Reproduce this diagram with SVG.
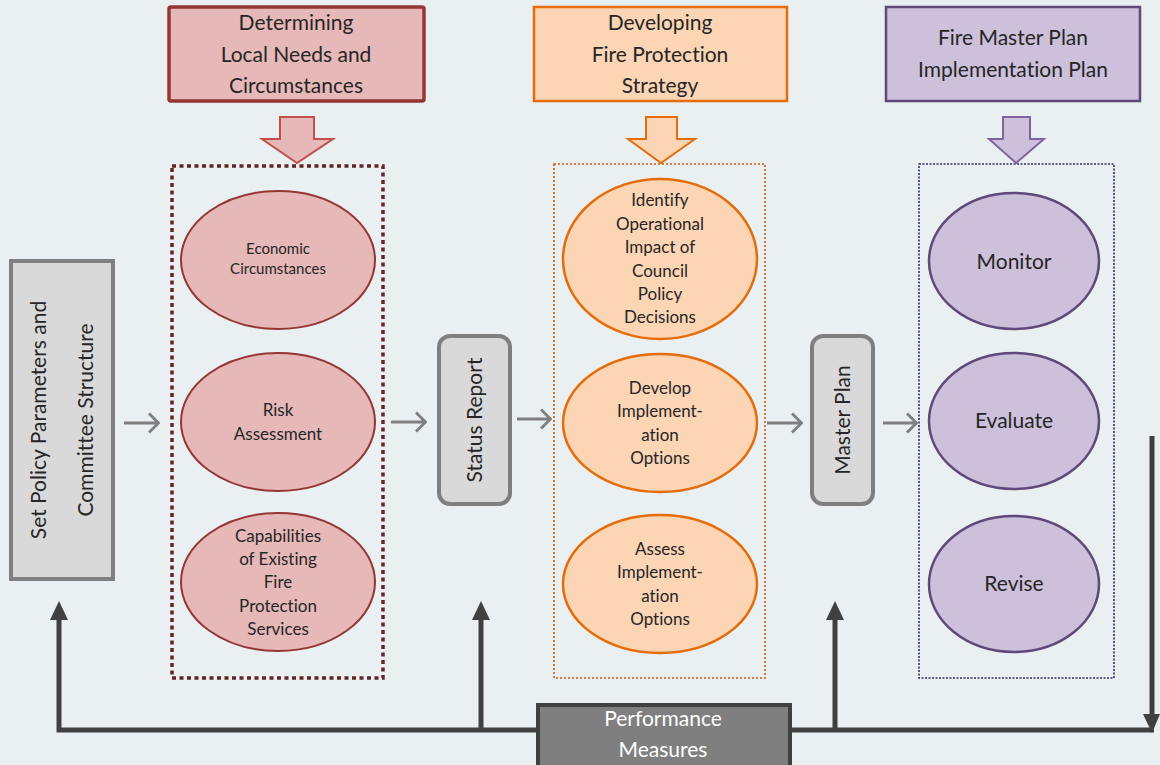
<svg xmlns="http://www.w3.org/2000/svg" width="1160" height="765" viewBox="0 0 1160 765">
<defs>
<style>
text{font-family:Lato,"Open Sans","Liberation Sans",sans-serif;fill:#262626;text-anchor:middle;font-variant-ligatures:none}
.h{font-size:21px}
.s{font-size:15px}
.m{font-size:17px}
.l{font-size:21px}
.gray{fill:#D9D9D9;stroke:#7F7F7F;stroke-width:4}
.red{fill:#E6B8B7;stroke:#943634;stroke-width:2}
.org{fill:#FCD5B5;stroke:#E46C0A;stroke-width:2.5}
.pur{fill:#CCC0DA;stroke:#5F497A;stroke-width:2.5}
.conn{stroke:#7F7F7F;stroke-width:3;fill:none}
.fb{stroke:#404040;stroke-width:5;fill:none}
</style>
<marker id="chev" viewBox="0 0 12 22" refX="11" refY="11" markerWidth="12" markerHeight="22" markerUnits="userSpaceOnUse" orient="auto">
<path d="M1,1.5 L10.5,11 L1,20.5" fill="none" stroke="#7F7F7F" stroke-width="3"/>
</marker>
</defs>
<rect width="1160" height="765" fill="#EAEFF2"/>

<g id="hdr-local">
<rect x="169" y="7" width="255" height="94" fill="#E6B8B7" stroke="#943634" stroke-width="3.5" rx="2"/>
<text class="h" x="296" y="30">Determining</text>
<text class="h" x="296" y="62">Local Needs and</text>
<text class="h" x="296" y="93">Circumstances</text>
</g>
<g id="hdr-strategy">
<rect x="534" y="7" width="253" height="94" fill="#FCD5B5" stroke="#E46C0A" stroke-width="2.5"/>
<text class="h" x="660" y="30">Developing</text>
<text class="h" x="660" y="62">Fire Protection</text>
<text class="h" x="660" y="93">Strategy</text>
</g>
<g id="hdr-impl">
<rect x="886" y="7" width="254" height="94" fill="#CCC0DA" stroke="#5F497A" stroke-width="2.5"/>
<text class="h" x="1013" y="45">Fire Master Plan</text>
<text class="h" x="1013" y="77">Implementation Plan</text>
</g>

<g id="barrow-local"><polygon points="280,117 314,117 314,139 333,139 297,163 262,139 280,139" fill="#E6B8B7" stroke="#C0504D" stroke-width="2"/></g>
<g id="barrow-strategy"><polygon points="646,117 677,117 677,139 695,139 661,163 628,139 646,139" fill="#FCD5B5" stroke="#E46C0A" stroke-width="2"/></g>
<g id="barrow-impl"><polygon points="1003,117 1030,117 1030,139 1044,139 1016,163 989,139 1003,139" fill="#CCC0DA" stroke="#7E649E" stroke-width="2"/></g>

<g id="group-local">
<rect x="172" y="166" width="211" height="512" fill="none" stroke="#632523" stroke-width="3.5" stroke-dasharray="4 3.5"/>
</g>
<g id="group-strategy">
<rect x="554" y="164" width="211" height="514" fill="none" stroke="#C55A11" stroke-width="1.6" stroke-dasharray="2 2"/>
</g>
<g id="group-impl">
<rect x="919" y="164" width="195" height="514" fill="none" stroke="#2E2E5E" stroke-width="1.6" stroke-dasharray="2 1.5"/>
</g>

<g id="set-policy">
<rect class="gray" x="11" y="261" width="102" height="318"/>
<text class="l" transform="translate(46,420) rotate(-90)">Set Policy Parameters and</text>
<text class="l" transform="translate(93,420) rotate(-90)">Committee Structure</text>
</g>

<g id="economic">
<ellipse class="red" cx="278" cy="260" rx="97" ry="69"/>
<text class="s" x="278" y="254">Economic</text>
<text class="s" x="278" y="274">Circumstances</text>
</g>
<g id="risk">
<ellipse class="red" cx="278" cy="422" rx="97" ry="69"/>
<text class="m" x="278" y="416">Risk</text>
<text class="m" x="278" y="440">Assessment</text>
</g>
<g id="capabilities">
<ellipse class="red" cx="278" cy="582" rx="97" ry="69"/>
<text class="m" x="278" y="542">Capabilities</text>
<text class="m" x="278" y="565">of Existing</text>
<text class="m" x="278" y="588">Fire</text>
<text class="m" x="278" y="612">Protection</text>
<text class="m" x="278" y="635">Services</text>
</g>

<g id="status-report">
<rect class="gray" x="439" y="336" width="71" height="168" rx="11"/>
<text class="l" transform="translate(482,420) rotate(-90)">Status Report</text>
</g>

<g id="identify">
<ellipse class="org" cx="660" cy="259" rx="97" ry="80"/>
<text class="m" x="660" y="206">Identify</text>
<text class="m" x="660" y="230">Operational</text>
<text class="m" x="660" y="253">Impact of</text>
<text class="m" x="660" y="277">Council</text>
<text class="m" x="660" y="300">Policy</text>
<text class="m" x="660" y="323">Decisions</text>
</g>
<g id="develop">
<ellipse class="org" cx="660" cy="423" rx="97" ry="69"/>
<text class="m" x="660" y="394">Develop</text>
<text class="m" x="660" y="417">Implement-</text>
<text class="m" x="660" y="441">ation</text>
<text class="m" x="660" y="464">Options</text>
</g>
<g id="assess">
<ellipse class="org" cx="660" cy="584" rx="97" ry="69"/>
<text class="m" x="660" y="555">Assess</text>
<text class="m" x="660" y="578">Implement-</text>
<text class="m" x="660" y="602">ation</text>
<text class="m" x="660" y="625">Options</text>
</g>

<g id="master-plan">
<rect class="gray" x="812" y="336" width="61" height="168" rx="11"/>
<text class="l" transform="translate(850,420) rotate(-90)">Master Plan</text>
</g>

<g id="monitor">
<ellipse class="pur" cx="1014" cy="261" rx="85" ry="68"/>
<text class="l" x="1014" y="269">Monitor</text>
</g>
<g id="evaluate">
<ellipse class="pur" cx="1014" cy="421" rx="85" ry="68"/>
<text class="l" x="1014" y="428">Evaluate</text>
</g>
<g id="revise">
<ellipse class="pur" cx="1014" cy="584" rx="85" ry="68"/>
<text class="l" x="1014" y="591">Revise</text>
</g>

<g id="connectors">
<line class="conn" x1="124" y1="423" x2="159" y2="423" marker-end="url(#chev)"/>
<line class="conn" x1="391" y1="422" x2="426" y2="422" marker-end="url(#chev)"/>
<line class="conn" x1="517" y1="419" x2="551" y2="419" marker-end="url(#chev)"/>
<line class="conn" x1="767" y1="423" x2="802" y2="423" marker-end="url(#chev)"/>
<line class="conn" x1="883" y1="423" x2="917" y2="423" marker-end="url(#chev)"/>
<polyline class="fb" points="1152,436 1152,716"/>
<polygon points="1143,714 1160,714 1152,733" fill="#404040"/>
<polyline class="fb" points="1154,730 791,730"/>
<polyline class="fb" points="537,730 59,730 59,618"/>
<polyline class="fb" points="481,730 481,618"/>
<polyline class="fb" points="835,730 835,618"/>
<polygon points="59,601 50,620 68,620" fill="#404040"/>
<polygon points="481,601 472,620 490,620" fill="#404040"/>
<polygon points="835,601 826,620 844,620" fill="#404040"/>
</g>

<g id="performance">
<rect x="538" y="705" width="252" height="72" fill="#7F7F7F" stroke="#404040" stroke-width="4"/>
<text class="l" x="663" y="726" style="fill:#FFFFFF">Performance</text>
<text class="l" x="663" y="757" style="fill:#FFFFFF">Measures</text>
</g>
</svg>
